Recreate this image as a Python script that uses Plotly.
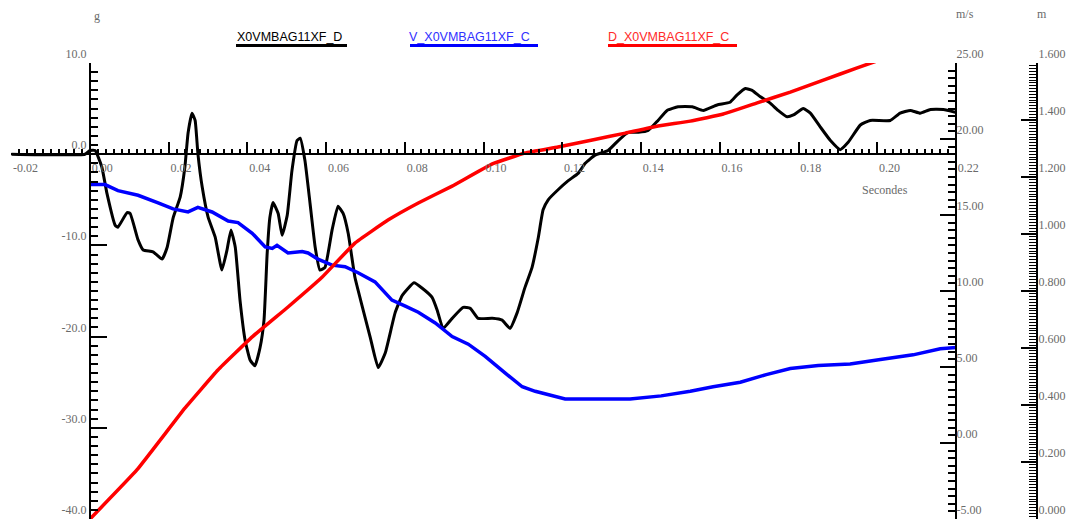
import plotly.graph_objects as go

# ---------------- data ----------------
series_names = ["X0VMBAG11XF_D", "V_X0VMBAG11XF_C", "D_X0VMBAG11XF_C"]
series_colors = ["#000000", "#0000ff", "#ff0000"]

# acceleration (g)
t_acc = [-0.02, -0.0013, 0.0, 0.0013, 0.0030, 0.0043, 0.0064, 0.0071, 0.0094, 0.0102,
         0.0122, 0.0135, 0.0160, 0.0183, 0.0196, 0.0211, 0.0229, 0.0241, 0.0249, 0.0259,
         0.0267, 0.0274, 0.0285, 0.0300, 0.0318, 0.0335, 0.0348, 0.0358, 0.0369, 0.0381,
         0.0394, 0.0407, 0.0419, 0.0432, 0.0442, 0.0450, 0.0457, 0.0465, 0.0478, 0.0488,
         0.0501, 0.0513, 0.0526, 0.0534, 0.0546, 0.0559, 0.0572, 0.0584, 0.0597, 0.0615,
         0.0630, 0.0643, 0.0656, 0.0673, 0.0691, 0.0712, 0.0732, 0.0750, 0.0775, 0.0793,
         0.0823, 0.0844, 0.0869, 0.0882, 0.0897, 0.0920, 0.0948, 0.0966, 0.0986, 0.1022,
         0.1047, 0.1067, 0.1085, 0.1105, 0.1123, 0.1139, 0.1151, 0.1164, 0.1189, 0.1215,
         0.1240, 0.1258, 0.1283, 0.1316, 0.1342, 0.1367, 0.1393, 0.1418, 0.1443, 0.1466,
         0.1494, 0.1530, 0.1558, 0.1593, 0.1626, 0.1644, 0.1665, 0.1682, 0.1703, 0.1728,
         0.1748, 0.1771, 0.1787, 0.1812, 0.1830, 0.1855, 0.1881, 0.1906, 0.1926, 0.1957,
         0.1982, 0.2033, 0.2058, 0.2084, 0.2109, 0.2135, 0.2168, 0.2198]
acc_g = [0.0, 0.0, 0.4, 0.4, -1.4, -4.3, -7.8, -8.0, -6.4, -6.5,
         -9.4, -10.5, -10.7, -11.5, -10.2, -7.0, -4.7, -1.4, 2.3, 4.5,
         3.7, 0.1, -3.6, -6.9, -9.1, -12.7, -10.5, -8.3, -10.2, -16.0,
         -20.4, -22.6, -23.2, -21.2, -18.2, -10.9, -6.9, -5.3, -6.5, -8.9,
         -6.7, -1.8, 1.5, 1.75, -0.7, -5.4, -10.2, -12.7, -12.4, -8.3,
         -5.7, -6.5, -8.7, -13.5, -16.6, -20.1, -23.4, -21.8, -17.4, -15.5,
         -14.1, -14.7, -15.7, -17.1, -19.1, -18.0, -16.8, -16.9, -18.0, -18.0,
         -18.2, -19.1, -17.4, -14.6, -12.4, -9.1, -6.1, -5.0, -3.9, -2.9,
         -2.1, -1.0, -0.1, 0.4, 1.5, 2.4, 2.4, 2.6, 3.7, 4.8,
         5.2, 5.2, 4.8, 5.4, 5.7, 6.5, 7.2, 7.0, 6.3, 5.6,
         4.8, 4.1, 4.3, 5.0, 4.5, 3.0, 1.5, 0.5, 1.3, 3.2,
         3.7, 3.7, 4.5, 4.8, 4.5, 4.9, 4.9, 4.6]

# velocity (m/s)
t_vel = [0.0, 0.0038, 0.0071, 0.0122, 0.0173, 0.0211, 0.0249, 0.0274, 0.0310, 0.0351,
         0.0376, 0.0412, 0.0445, 0.0463, 0.0475, 0.0503, 0.0539, 0.0554, 0.0579, 0.0615,
         0.0648, 0.0681, 0.0724, 0.0767, 0.0801, 0.0834, 0.0877, 0.0920, 0.0961, 0.1004,
         0.1055, 0.1098, 0.1131, 0.1174, 0.1207, 0.1245, 0.1296, 0.1372, 0.1451, 0.1525,
         0.1583, 0.1652, 0.1718, 0.1779, 0.1850, 0.1931, 0.2008, 0.2091, 0.2160, 0.2206]
vel_ms = [17.0, 17.0, 16.6, 16.3, 15.8, 15.4, 15.2, 15.5, 15.2, 14.6,
          14.5, 13.8, 12.9, 12.8, 13.0, 12.5, 12.6, 12.5, 12.1, 11.7,
          11.6, 11.2, 10.6, 9.4, 9.0, 8.6, 7.9, 7.0, 6.5, 5.7,
          4.6, 3.7, 3.4, 3.1, 2.9, 2.9, 2.9, 2.9, 3.1, 3.4,
          3.7, 4.0, 4.5, 4.9, 5.1, 5.2, 5.5, 5.8, 6.2, 6.3]

# displacement (m)
t_disp = [0.0, 0.0119, 0.0241, 0.0325, 0.0412, 0.0503, 0.0590, 0.0673, 0.0757, 0.0834,
          0.0920, 0.1022, 0.1105, 0.1189, 0.1276, 0.1360, 0.1443, 0.1525, 0.1609, 0.1695,
          0.1779, 0.1863, 0.1949, 0.2003]
disp_m = [0.0, 0.172, 0.389, 0.523, 0.639, 0.744, 0.849, 0.968, 1.049, 1.109,
          1.168, 1.246, 1.284, 1.305, 1.330, 1.354, 1.379, 1.396, 1.421, 1.460,
          1.498, 1.540, 1.583, 1.609]

# tick labels
x_tickvals = [-0.02, 0.0, 0.02, 0.04, 0.06, 0.08, 0.10, 0.12, 0.14, 0.16, 0.18, 0.20, 0.22]
x_ticktext = ["-0.02", "0.00", "0.02", "0.04", "0.06", "0.08", "0.10", "0.12", "0.14",
              "0.16", "0.18", "0.20", "0.22"]
g_tickvals = [10, 0, -10, -20, -30, -40]
g_ticktext = ["10.0", "0.0", "-10.0", "-20.0", "-30.0", "-40.0"]
v_tickvals = [25, 20, 15, 10, 5, 0, -5]
v_ticktext = ["25.00", "20.00", "15.00", "10.00", "5.00", "0.00", "-5.00"]
d_tickvals = [1.6, 1.4, 1.2, 1.0, 0.8, 0.6, 0.4, 0.2, 0.0]
d_ticktext = ["1.600", "1.400", "1.200", "1.000", "0.800", "0.600", "0.400", "0.200", "0.000"]

# ---------------- figure ----------------
W, H = 1075, 525
def px(x):
    return x / W
def py(y):
    return 1 - y / H

LABEL_FONT = dict(family="Liberation Serif", size=12, color="#6a6a6a")
LEG_FONT = "Liberation Sans"

fig = go.Figure()
fig.add_trace(go.Scatter(x=t_acc, y=acc_g, mode="lines", name=series_names[0],
                         line=dict(color=series_colors[0], width=3, shape="spline", smoothing=0.4),
                         xaxis="x", yaxis="y", showlegend=False))
fig.add_trace(go.Scatter(x=t_vel, y=vel_ms, mode="lines", name=series_names[1],
                         line=dict(color=series_colors[1], width=3.5),
                         xaxis="x", yaxis="y2", showlegend=False))
fig.add_trace(go.Scatter(x=t_disp, y=disp_m, mode="lines", name=series_names[2],
                         line=dict(color=series_colors[2], width=3.5, shape="spline", smoothing=0.3),
                         xaxis="x", yaxis="y3", showlegend=False, cliponaxis=False))

ydom = [py(519), py(63)]

common = dict(showgrid=False, zeroline=False, showline=True, linecolor="black",
              linewidth=2, tickcolor="black", tickwidth=1.5, tickfont=LABEL_FONT,
              tickmode="array")

fig.update_layout(
    width=W, height=H,
    margin=dict(l=0, r=0, t=0, b=0, autoexpand=False),
    paper_bgcolor="white", plot_bgcolor="white",
    xaxis=dict(domain=[px(11.3), px(956)], range=[-0.02, 0.22], anchor="free",
               position=py(154), ticks="inside", ticklen=11,
               tickvals=x_tickvals, ticktext=x_ticktext,
               ticklabelposition="outside right", ticklabelstandoff=3,
               minor=dict(ticks="inside", ticklen=4, tickwidth=1.5, tickcolor="black",
                          tickmode="linear", tick0=0, dtick=0.002, showgrid=False),
               **common),
    yaxis=dict(domain=ydom, range=[-40, 10], anchor="free", position=px(90),
               side="left", ticks="inside", ticklen=16,
               tickvals=g_tickvals, ticktext=g_ticktext,
               ticklabelposition="outside top",
               minor=dict(ticks="inside", ticklen=7, tickwidth=1.5, tickcolor="black",
                          tickmode="linear", tick0=0, dtick=1, showgrid=False),
               **common),
    yaxis2=dict(domain=ydom, range=[-5, 25], anchor="free", position=px(956),
                overlaying="y", side="right", ticks="inside", ticklen=15,
                tickvals=v_tickvals, ticktext=v_ticktext,
                ticklabelposition="outside top", ticklabelstandoff=-3,
                minor=dict(ticks="inside", ticklen=7, tickwidth=1.5, tickcolor="black",
                           tickmode="linear", tick0=0, dtick=0.5, showgrid=False),
                **common),
    yaxis3=dict(domain=ydom, range=[0, 1.6], anchor="free", position=px(1037),
                overlaying="y", side="right", ticks="inside", ticklen=15,
                tickvals=d_tickvals, ticktext=d_ticktext,
                ticklabelposition="outside top", ticklabelstandoff=-2,
                minor=dict(ticks="inside", ticklen=7, tickwidth=1.2, tickcolor="black",
                           tickmode="linear", tick0=0, dtick=0.01, showgrid=False),
                **common),
)

annotations = [
    dict(text="g", x=px(97), y=py(16)),
    dict(text="m/s", x=px(965), y=py(14)),
    dict(text="m", x=px(1042), y=py(14)),
    dict(text="Secondes", x=px(885), y=py(190)),
]
for a in annotations:
    fig.add_annotation(xref="paper", yref="paper", showarrow=False,
                       xanchor="center", yanchor="middle", font=LABEL_FONT, **a)

legend_pos = [(289, 236, 347), (469, 410, 538), (668, 608, 737)]
text_colors = ["#000000", "#3030ff", "#ff2a2a"]
for name, col, tcol, (cx, x0, x1) in zip(series_names, series_colors, text_colors, legend_pos):
    fig.add_annotation(xref="paper", yref="paper", showarrow=False, text=name,
                       x=px(cx), y=py(37), xanchor="center", yanchor="middle",
                       font=dict(family=LEG_FONT, size=12.5, color=tcol))
    fig.add_shape(type="line", xref="paper", yref="paper",
                  x0=px(x0), x1=px(x1), y0=py(45.5), y1=py(45.5),
                  line=dict(color=col, width=3))

fig.write_html("out.html", config={"displayModeBar": False},
               post_script="document.body.style.margin='0';document.body.style.overflow='hidden';")
